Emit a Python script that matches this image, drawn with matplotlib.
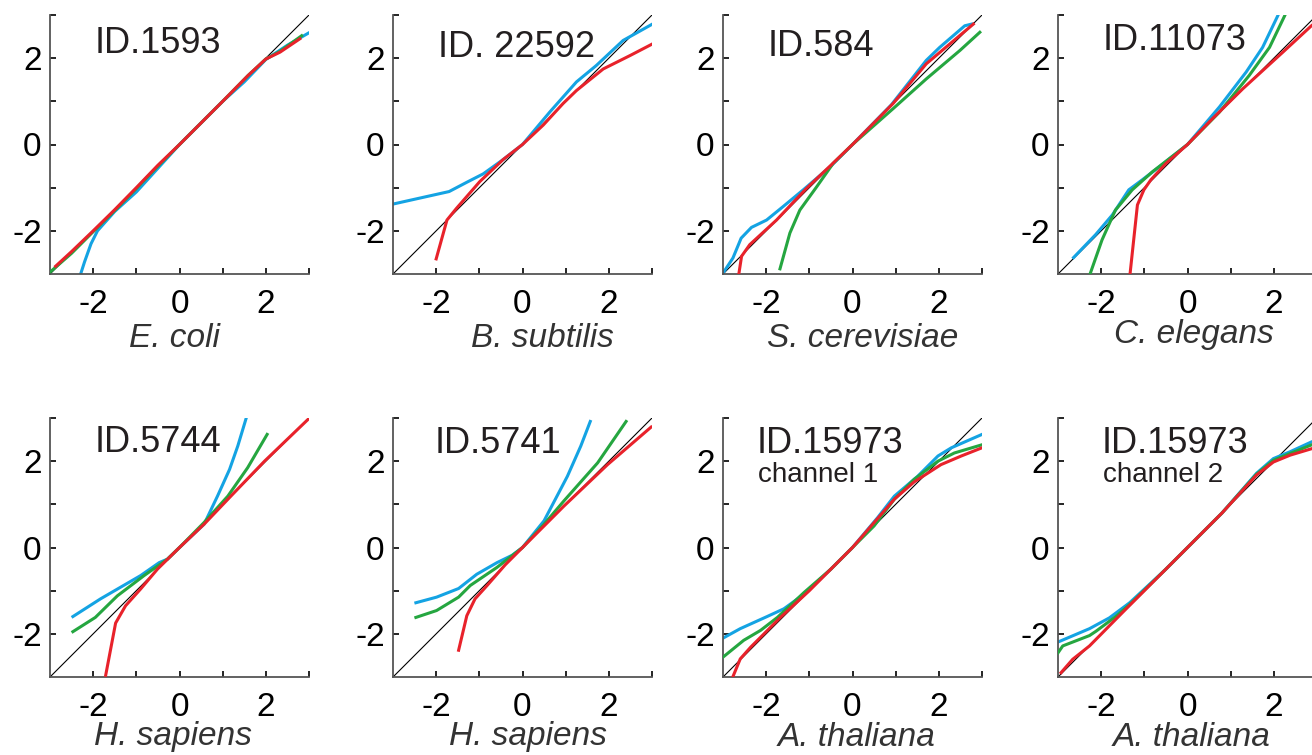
import matplotlib
matplotlib.use("Agg")
import matplotlib.pyplot as plt

plt.rcParams['font.family'] = ['Liberation Sans', 'DejaVu Sans']

# panel titles and species labels
ids = ['ID.1593', 'ID. 22592', 'ID.584', 'ID.11073',
       'ID.5744', 'ID.5741', 'ID.15973', 'ID.15973']
channels = ['', '', '', '', '', '', 'channel 1', 'channel 2']
species = ['E. coli', 'B. subtilis', 'S. cerevisiae', 'C. elegans',
           'H. sapiens', 'H. sapiens', 'A. thaliana', 'A. thaliana']

# curves: (x list, y list) per panel, None if absent
blue_x = [
    [-2.29, -2.2, -2.05, -1.9, -1.5, -1.0, -0.5, 0, 0.5, 1, 1.5, 2, 2.5, 3.02],
    [-3.0, -1.7, -1.3, -0.91, -0.45, 0, 0.63, 0.94, 1.25, 1.71, 2.33, 3.01],
    [-3.0, -2.77, -2.58, -2.34, -1.99, -1.61, -1.14, -0.5, 0, 0.9, 1.71, 2.02, 2.6, 2.76],
    [-2.64, -2.13, -1.74, -1.36, -1.05, -0.58, 0, 0.74, 1.36, 1.74, 2.09],
    [-2.47, -1.83, -0.9, -0.47, -0.28, 0, 0.57, 0.88, 1.16, 1.35, 1.54],
    [-2.47, -1.99, -1.48, -1.06, -0.59, -0.24, 0, 0.5, 1.04, 1.35, 1.57],
    [-3.0, -2.6, -1.98, -1.59, -1.12, -0.5, 0, 0.58, 0.97, 1.51, 1.98, 2.29, 3.0],
    [-3.0, -2.27, -1.81, -1.34, -0.5, 0, 0.8, 1.6, 1.99, 2.38, 2.88, 3.0],
]
blue_y = [
    [-3.0, -2.72, -2.3, -2.0, -1.55, -1.1, -0.55, 0, 0.5, 1, 1.45, 1.97, 2.3, 2.6],
    [-1.38, -1.09, -0.88, -0.68, -0.35, 0, 0.75, 1.1, 1.45, 1.83, 2.41, 2.79],
    [-2.98, -2.63, -2.17, -1.92, -1.75, -1.44, -1.05, -0.5, 0, 0.92, 1.95, 2.25, 2.75, 2.79],
    [-2.62, -2.09, -1.63, -1.05, -0.82, -0.46, 0, 0.87, 1.68, 2.25, 2.98],
    [-1.6, -1.19, -0.65, -0.35, -0.27, 0, 0.54, 1.19, 1.81, 2.35, 2.98],
    [-1.28, -1.15, -0.95, -0.62, -0.35, -0.18, 0, 0.62, 1.65, 2.35, 2.92],
    [-2.1, -1.88, -1.6, -1.42, -1.08, -0.5, 0, 0.69, 1.19, 1.65, 2.12, 2.31, 2.62],
    [-2.19, -1.88, -1.63, -1.28, -0.5, 0, 0.8, 1.72, 2.06, 2.22, 2.45, 2.47],
]
green_x = [
    [-2.98, -2.5, -2.0, -1.5, -1.0, -0.5, 0, 0.5, 1, 1.59, 2.0, 2.33, 2.83],
    None,
    [-1.68, -1.45, -1.22, -0.83, -0.45, 0, 0.94, 1.71, 2.49, 2.95],
    [-2.25, -1.98, -1.67, -1.28, -0.81, 0, 0.74, 1.43, 1.9, 2.25],
    [-2.47, -1.95, -1.44, -0.82, -0.28, 0, 0.57, 1.12, 1.58, 2.03],
    [-2.47, -1.99, -1.48, -1.21, -0.59, 0, 0.5, 0.96, 1.74, 2.4],
    [-3.0, -2.52, -2.13, -1.74, -1.12, -0.5, 0, 0.5, 0.97, 1.43, 1.98, 2.36, 3.0],
    [-3.0, -2.89, -2.27, -2.12, -1.65, -1.34, -0.5, 0, 0.8, 1.6, 1.99, 2.38, 2.88, 3.0],
]
green_y = [
    [-2.94, -2.52, -2.02, -1.53, -1.02, -0.5, 0, 0.5, 1, 1.6, 1.98, 2.16, 2.52],
    None,
    [-2.88, -2.05, -1.52, -0.98, -0.44, 0, 0.83, 1.52, 2.18, 2.6],
    [-2.98, -2.21, -1.52, -1.05, -0.63, 0, 0.75, 1.6, 2.25, 2.98],
    [-1.95, -1.62, -1.12, -0.65, -0.27, 0, 0.58, 1.19, 1.85, 2.62],
    [-1.62, -1.46, -1.15, -0.88, -0.46, 0, 0.54, 1.08, 1.96, 2.92],
    [-2.54, -2.15, -1.92, -1.62, -1.04, -0.5, 0, 0.5, 1.12, 1.58, 2.0, 2.19, 2.38],
    [-2.44, -2.28, -2.04, -1.94, -1.59, -1.32, -0.5, 0, 0.8, 1.7, 2.02, 2.18, 2.38, 2.4],
]
red_x = [
    [-2.87, -2.5, -2.0, -1.51, -1.0, -0.5, 0, 0.5, 1, 1.59, 2.0, 2.33, 2.79],
    [-2.0, -1.75, -1.53, -0.99, -0.45, 0, 0.48, 0.94, 1.25, 1.87, 2.49, 3.01],
    [-2.63, -2.57, -2.38, -1.76, -1.07, -0.5, 0, 0.94, 1.71, 2.8],
    [-1.33, -1.16, -1.01, -0.85, -0.5, 0, 0.58, 1.28, 2.21, 2.87, 3.0],
    [-1.71, -1.48, -1.25, -0.9, -0.51, 0, 0.57, 1.19, 1.97, 2.99],
    [-1.48, -1.29, -1.1, -0.82, -0.4, 0, 0.96, 1.97, 2.98],
    [-2.79, -2.6, -2.36, -1.67, -1.0, 0, 0.97, 1.43, 2.05, 2.52, 3.0],
    [-2.93, -2.66, -2.27, -1.5, -0.5, 0, 0.8, 1.6, 1.99, 2.38, 2.88, 3.0],
]
red_y = [
    [-2.82, -2.48, -2.0, -1.52, -1.0, -0.48, 0, 0.5, 1, 1.6, 1.98, 2.14, 2.45],
    [-2.65, -1.75, -1.48, -0.86, -0.35, 0, 0.45, 0.95, 1.25, 1.75, 2.06, 2.33],
    [-2.98, -2.59, -2.32, -1.75, -1.02, -0.48, 0, 0.95, 1.87, 2.79],
    [-2.99, -1.4, -1.05, -0.82, -0.44, 0, 0.6, 1.29, 2.14, 2.75, 2.85],
    [-2.96, -1.75, -1.35, -0.96, -0.5, 0, 0.54, 1.19, 2.0, 2.98],
    [-2.38, -1.58, -1.19, -0.88, -0.4, 0, 0.96, 1.92, 2.79],
    [-3.04, -2.58, -2.31, -1.62, -1.0, 0, 1.12, 1.52, 1.92, 2.12, 2.31],
    [-2.9, -2.59, -2.28, -1.5, -0.5, 0, 0.8, 1.68, 1.98, 2.14, 2.29, 2.32],
]

col_left = [50, 393, 723, 1058]
row_bottom = [274, 677]
W, H = 1312, 755
size = 259

title_x = [0.174, 0.173, 0.174, 0.174, 0.174, 0.16, 0.13, 0.17]
title_y = [0.89, 0.876, 0.88, 0.90, 0.905, 0.90, 0.90, 0.90]
label_x = [0.479, 0.577, 0.539, 0.525, 0.475, 0.523, 0.517, 0.517]
label_y = [-0.282, -0.282, -0.282, -0.266, -0.263, -0.263, -0.266, -0.266]

fig = plt.figure(figsize=(W / 100, H / 100), dpi=100)

for i in range(8):
    r, c = divmod(i, 4)
    ax = fig.add_axes([col_left[c] / W, (H - row_bottom[r]) / H, size / W, size / H])
    ax.plot([-3, 3], [-3, 3], color='black', lw=0.8, zorder=1)
    ax.plot(blue_x[i], blue_y[i], color='#14a3e3', lw=2.2, zorder=2)
    if green_x[i] is not None:
        ax.plot(green_x[i], green_y[i], color='#25a640', lw=2.2, zorder=3)
    ax.plot(red_x[i], red_y[i], color='#e8222b', lw=2.2, zorder=4)
    ax.set_xlim(-3, 3)
    ax.set_ylim(-3, 3)
    ax.set_xticks([-2, -1, 0, 1, 2, 3])
    ax.set_xticklabels(['-2', '', '0', '', '2', ''])
    ax.set_yticks([-2, -1, 0, 1, 2, 3])
    ax.set_yticklabels(['-2', '', '0', '', '2', ''])
    ax.tick_params(direction='in', length=4, width=1.2, labelsize=24, colors='black')
    ax.tick_params(axis='x', pad=11)
    ax.tick_params(axis='y', pad=6)
    for s in ['top', 'right']:
        ax.spines[s].set_visible(False)
    for s in ['left', 'bottom']:
        ax.spines[s].set_color('#555555')
        ax.spines[s].set_linewidth(1.3)
    ax.text(title_x[i], title_y[i], ids[i], transform=ax.transAxes,
            ha='left', va='center', fontsize=26, color='#231f20')
    if channels[i]:
        ax.text(title_x[i] + 0.005, title_y[i] - 0.12, channels[i], transform=ax.transAxes,
                ha='left', va='center', fontsize=20, color='#231f20')
    ax.text(label_x[i], label_y[i], species[i], transform=ax.transAxes,
            ha='center', va='baseline', fontsize=24, style='italic', color='#333333')

fig.savefig('out.png', dpi=100)
